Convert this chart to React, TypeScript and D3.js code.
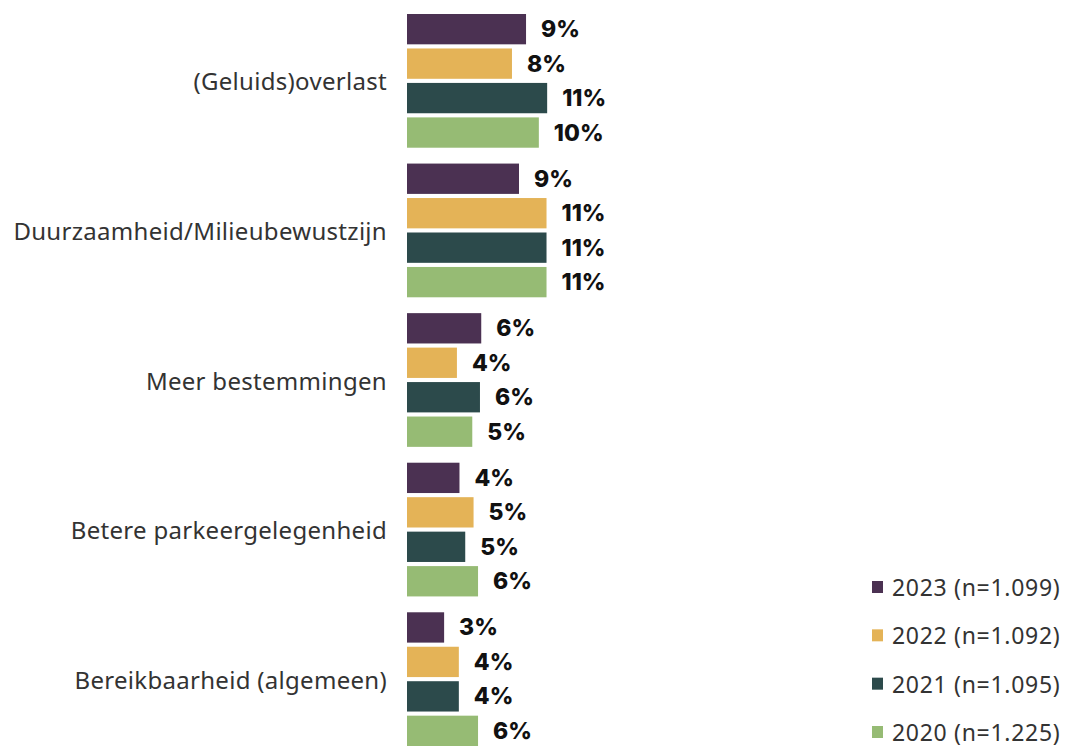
import * as d3 from 'd3';

const categories = [
  '(Geluids)overlast',
  'Duurzaamheid/Milieubewustzijn',
  'Meer bestemmingen',
  'Betere parkeergelegenheid',
  'Bereikbaarheid (algemeen)',
];

const seriesNames = ['2023 (n=1.099)', '2022 (n=1.092)', '2021 (n=1.095)', '2020 (n=1.225)'];
const seriesColors = ['#4b3152', '#e4b357', '#2c4a4b', '#96bb74'];

// percentages per series, in category order
const values2023 = [9.3, 8.75, 5.8, 4.1, 2.9];
const values2022 = [8.2, 10.9, 3.9, 5.2, 4.05];
const values2021 = [10.95, 10.9, 5.7, 4.55, 4.05];
const values2020 = [10.3, 10.9, 5.1, 5.55, 5.55];

const seriesValues = [values2023, values2022, values2021, values2020];

const W = 1074;
const H = 748;
const barLeft = 407;
const labelFont = "'Noto Sans', sans-serif";

export default function App() {
  const y = d3.scaleBand<string>().domain(categories).range([14, 746]).paddingInner(0.106);
  const yInner = d3
    .scaleBand<number>()
    .domain(d3.range(seriesNames.length))
    .range([0, y.bandwidth()])
    .paddingInner(0.12);
  // 1% ~ 12.8px
  const x = d3.scaleLinear().domain([0, 20]).range([0, 256]);

  const legendY = d3.scalePoint<number>().domain(d3.range(seriesNames.length)).range([587, 732]);

  return (
    <svg
      width={W}
      height={H}
      style={{ position: 'absolute', left: 0, top: 0, display: 'block', background: '#fff' }}
    >
      {categories.map((cat, ci) => {
        const gy = y(cat) ?? 0;
        return (
          <g key={cat}>
            <text
              x={387}
              y={gy + y.bandwidth() / 2}
              textAnchor="end"
              dominantBaseline="central"
              fontFamily={labelFont}
              fontSize={24}
              letterSpacing={0.3}
              fill="#333"
            >
              {cat}
            </text>
            {seriesValues.map((vals, si) => {
              const by = gy + (yInner(si) ?? 0);
              const w = x(vals[ci]);
              return (
                <g key={si}>
                  <rect x={barLeft} y={by} width={w} height={yInner.bandwidth()} fill={seriesColors[si]} />
                  <text
                    x={barLeft + w + 15}
                    y={by + yInner.bandwidth() / 2}
                    dominantBaseline="central"
                    fontFamily="Inter, sans-serif"
                    fontWeight={800}
                    fontSize={23}
                    fill="#111"
                  >
                    {Math.round(vals[ci])}%
                  </text>
                </g>
              );
            })}
          </g>
        );
      })}
      {seriesNames.map((name, si) => {
        const ly = legendY(si) ?? 0;
        return (
          <g key={name}>
            <rect x={872} y={ly - 6} width={11} height={12} fill={seriesColors[si]} />
            <text
              x={892}
              y={ly}
              dominantBaseline="central"
              fontFamily={labelFont}
              fontSize={23}
              letterSpacing={0.7}
              fill="#333"
            >
              {name}
            </text>
          </g>
        );
      })}
    </svg>
  );
}
